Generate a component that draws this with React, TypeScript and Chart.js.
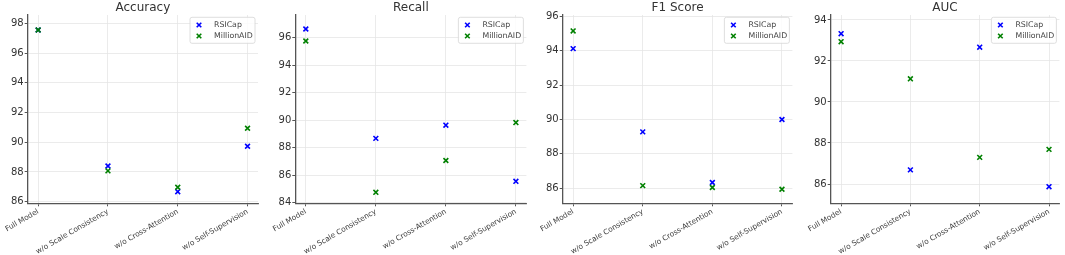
import React, { useEffect, useRef } from "react";
import { Chart, registerables } from "chart.js";

Chart.register(...registerables);

const categories = ["Full Model", "w/o Scale Consistency", "w/o Cross-Attention", "w/o Self-Supervision"];
const seriesNames = ["RSICap", "MillionAID"];

const accuracyRSICap = [97.55, 88.4, 86.67, 89.73];
const accuracyMillionAID = [97.55, 88.07, 86.97, 90.94];
const accuracyTicks = [86, 88, 90, 92, 94, 96, 98];

const recallRSICap = [96.63, 88.68, 89.64, 85.56];
const recallMillionAID = [95.76, 84.76, 87.07, 89.83];
const recallTicks = [84, 86, 88, 90, 92, 94, 96];

const f1RSICap = [94.13, 89.28, 86.33, 90.0];
const f1MillionAID = [95.16, 86.15, 86.04, 85.94];
const f1Ticks = [86, 88, 90, 92, 94, 96];

const aucRSICap = [93.33, 86.69, 92.67, 85.87];
const aucMillionAID = [92.94, 91.13, 87.3, 87.69];
const aucTicks = [86, 88, 90, 92, 94];

const FONT = '"DejaVu Sans", sans-serif';
const COLORS = ["#0000ff", "#008000"];

type Panel = {
  title: string;
  a: number[];
  b: number[];
  ticks: number[];
  yMin: number;
  yMax: number;
  left: number;
  width: number;
  yW: number;
  padR: number;
};

const panels: Panel[] = [
  { title: "Accuracy", a: accuracyRSICap, b: accuracyMillionAID, ticks: accuracyTicks, yMin: 85.89, yMax: 98.56, left: 0, width: 266, yW: 27.7, padR: 8 },
  { title: "Recall", a: recallRSICap, b: recallMillionAID, ticks: recallTicks, yMin: 83.96, yMax: 97.65, left: 266, width: 266, yW: 29.3, padR: 5 },
  { title: "F1 Score", a: f1RSICap, b: f1MillionAID, ticks: f1Ticks, yMin: 85.12, yMax: 96.09, left: 532, width: 266, yW: 30.7, padR: 3 },
  { title: "AUC", a: aucRSICap, b: aucMillionAID, ticks: aucTicks, yMin: 85.06, yMax: 94.24, left: 798, width: 267, yW: 32.7, padR: 2.5 },
];

function drawX(ctx: CanvasRenderingContext2D, cx: number, cy: number, r: number, color: string) {
  ctx.strokeStyle = color;
  ctx.lineWidth = 1.6;
  ctx.beginPath();
  ctx.moveTo(cx - r, cy - r);
  ctx.lineTo(cx + r, cy + r);
  ctx.moveTo(cx - r, cy + r);
  ctx.lineTo(cx + r, cy - r);
  ctx.stroke();
}

function makeDecor(title: string) {
  return {
    id: "decor",
    afterDraw(chart: any) {
      const { ctx, chartArea } = chart;
      ctx.save();
      ctx.fillStyle = "#333";
      ctx.font = `12px ${FONT}`;
      ctx.textAlign = "center";
      ctx.textBaseline = "alphabetic";
      ctx.fillText(title, (chartArea.left + chartArea.right) / 2, 10.8);

      const w = 65;
      const h = 26;
      const x0 = chartArea.right - 3 - w;
      const y0 = chartArea.top + 2.3;
      ctx.beginPath();
      const r = 2;
      ctx.moveTo(x0 + r, y0);
      ctx.lineTo(x0 + w - r, y0);
      ctx.quadraticCurveTo(x0 + w, y0, x0 + w, y0 + r);
      ctx.lineTo(x0 + w, y0 + h - r);
      ctx.quadraticCurveTo(x0 + w, y0 + h, x0 + w - r, y0 + h);
      ctx.lineTo(x0 + r, y0 + h);
      ctx.quadraticCurveTo(x0, y0 + h, x0, y0 + h - r);
      ctx.lineTo(x0, y0 + r);
      ctx.quadraticCurveTo(x0, y0, x0 + r, y0);
      ctx.closePath();
      ctx.fillStyle = "rgba(255,255,255,0.85)";
      ctx.fill();
      ctx.strokeStyle = "#d6d6d6";
      ctx.lineWidth = 0.8;
      ctx.stroke();

      ctx.font = `7.8px ${FONT}`;
      ctx.textAlign = "left";
      ctx.textBaseline = "middle";
      seriesNames.forEach((name, i) => {
        const cy = y0 + 7.7 + i * 11;
        drawX(ctx, x0 + 9, cy, 2.3, COLORS[i]);
        ctx.fillStyle = "#444";
        ctx.fillText(name, x0 + 24, cy);
      });
      ctx.restore();
    },
  };
}

function PanelChart({ p }: { p: Panel }) {
  const ref = useRef<HTMLCanvasElement | null>(null);
  useEffect(() => {
    if (!ref.current) return;
    const mk = (vals: number[]) => vals.map((v, i) => ({ x: i, y: v }));
    const chart = new Chart(ref.current, {
      type: "scatter",
      data: {
        datasets: [
          {
            label: seriesNames[0],
            data: mk(p.a),
            pointStyle: "crossRot",
            pointRadius: 3.4,
            borderColor: COLORS[0],
            backgroundColor: COLORS[0],
            pointBorderWidth: 1.6,
            order: 1,
          },
          {
            label: seriesNames[1],
            data: mk(p.b),
            pointStyle: "crossRot",
            pointRadius: 3.4,
            borderColor: COLORS[1],
            backgroundColor: COLORS[1],
            pointBorderWidth: 1.6,
            order: 0,
          },
        ],
      },
      options: {
        animation: false,
        responsive: false,
        events: [],
        layout: { padding: { top: 15, right: p.padR, left: 0, bottom: 0 } },
        plugins: {
          legend: { display: false },
          title: { display: false },
          tooltip: { enabled: false },
        },
        scales: {
          x: {
            type: "linear",
            min: -0.15,
            max: 3.15,
            afterFit: (s: any) => {
              s.height = 51.7;
            },
            afterBuildTicks: (s: any) => {
              s.ticks = categories.map((_, i) => ({ value: i }));
            },
            ticks: {
              autoSkip: false,
              minRotation: 30,
              maxRotation: 30,
              padding: 1,
              color: "#404040",
              font: { family: FONT, size: 7.4 },
              callback: (v: any) => categories[Math.round(Number(v))] ?? "",
            },
            grid: { color: "#e6e6e6", lineWidth: 0.8, tickLength: 3, tickColor: "#555", tickWidth: 1 },
            border: { display: true, color: "#555", width: 1.3 },
          },
          y: {
            type: "linear",
            min: p.yMin,
            max: p.yMax,
            afterFit: (s: any) => {
              s.width = p.yW;
            },
            afterBuildTicks: (s: any) => {
              s.ticks = p.ticks.map((v) => ({ value: v }));
            },
            ticks: {
              padding: 1,
              color: "#333",
              font: { family: FONT, size: 10 },
              callback: (v: any) => String(v),
            },
            grid: { color: "#e6e6e6", lineWidth: 0.8, tickLength: 3, tickColor: "#555", tickWidth: 1 },
            border: { display: true, color: "#555", width: 1.3 },
          },
        },
      },
      plugins: [makeDecor(p.title)],
    } as any);
    return () => chart.destroy();
  }, [p]);
  return (
    <canvas
      ref={ref}
      width={p.width}
      height={255}
      style={{ position: "absolute", left: p.left, top: 0, width: p.width, height: 255 }}
    />
  );
}

export default function App() {
  return (
    <div style={{ position: "fixed", left: 0, top: 0, width: 1065, height: 255, background: "#fff", overflow: "hidden" }}>
      {panels.map((p) => (
        <PanelChart key={p.title} p={p} />
      ))}
    </div>
  );
}
